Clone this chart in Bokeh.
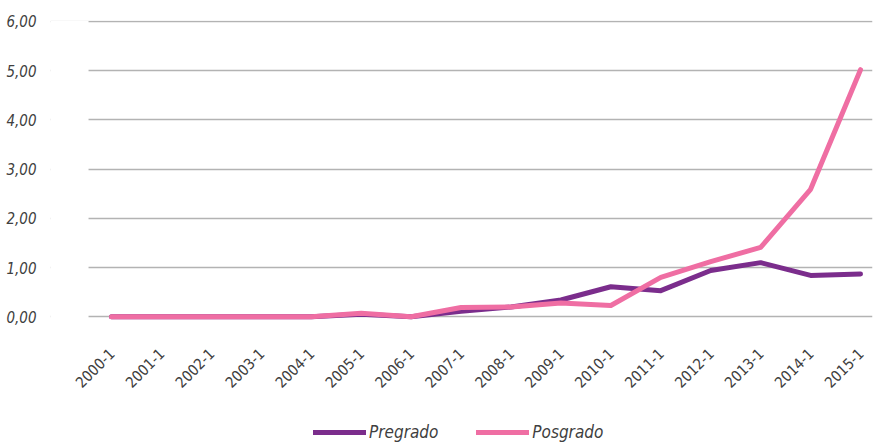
import math
from bokeh.plotting import figure
from bokeh.models import (ColumnDataSource, FixedTicker, Range1d, Legend, LegendItem,
                          CustomJSTickFormatter, BoxAnnotation)
from bokeh.embed import file_html
from bokeh.resources import INLINE

periods = ["2000-1", "2001-1", "2002-1", "2003-1", "2004-1", "2005-1", "2006-1", "2007-1",
           "2008-1", "2009-1", "2010-1", "2011-1", "2012-1", "2013-1", "2014-1", "2015-1"]
pregrado = [0.0, 0.0, 0.0, 0.0, 0.0, 0.05, 0.0, 0.11, 0.2, 0.34, 0.61, 0.53, 0.94, 1.1, 0.84, 0.87]
posgrado = [0.0, 0.0, 0.0, 0.0, 0.0, 0.07, 0.0, 0.19, 0.2, 0.28, 0.23, 0.8, 1.12, 1.41, 2.59, 5.02]
y_ticks = [0, 1, 2, 3, 4, 5, 6]

PURPLE = "#7b2d8c"
PINK = "#ef6ea3"
TEXT = "#404040"
FONT = "DejaVu Sans Condensed"

idx = list(range(len(periods)))
src = ColumnDataSource(dict(x=idx, pre=pregrado, pos=posgrado))

p = figure(frame_width=822, frame_height=423, output_backend="svg", toolbar_location=None,
           x_range=Range1d(-1.222, 15.24), y_range=Range1d(-2.575, 6.02),
           min_border_left=50, min_border_right=2, min_border_top=20, min_border_bottom=0)
p.outline_line_color = None
p.background_fill_color = "white"
p.border_fill_color = "white"

p.xgrid.grid_line_color = None
p.ygrid.grid_line_color = "#b3b3b3"
p.ygrid.grid_line_width = 1.3
p.yaxis.ticker = FixedTicker(ticks=y_ticks)
p.xaxis.ticker = FixedTicker(ticks=idx)
p.xaxis.major_label_overrides = {i: s for i, s in enumerate(periods)}
p.xaxis.fixed_location = 0

# white mask so that the gridlines start at the plot area's left edge
p.add_layout(BoxAnnotation(right=-0.46, bottom=-0.1, fill_color="white", fill_alpha=1,
                           line_color=None, level="underlay"))

for ax in (p.xaxis, p.yaxis):
    ax.axis_line_color = None
    ax.major_tick_line_color = None
    ax.minor_tick_line_color = None
    ax.major_label_text_font = FONT
    ax.major_label_text_color = TEXT
    ax.major_label_text_font_size = "15px"

p.yaxis.major_label_text_font_style = "italic"
p.yaxis.formatter = CustomJSTickFormatter(code="return tick.toFixed(2).replace('.', ',');")
p.yaxis.major_label_standoff = 8
p.xaxis.major_label_orientation = math.pi / 4
p.xaxis.major_label_standoff = 28

r_pre = p.line("x", "pre", source=src, line_color=PURPLE, line_width=5, line_cap="round", line_join="round")
r_pos = p.line("x", "pos", source=src, line_color=PINK, line_width=5, line_cap="round", line_join="round")

legend = Legend(items=[LegendItem(label="Pregrado", renderers=[r_pre]),
                       LegendItem(label="Posgrado", renderers=[r_pos])],
                location=(263, 1), orientation="horizontal",
                glyph_width=53, glyph_height=16, label_standoff=3, spacing=38,
                padding=0, margin=0, border_line_color=None, background_fill_alpha=0,
                label_text_font=FONT, label_text_font_style="italic",
                label_text_font_size="17px", label_text_color=TEXT)
p.add_layout(legend, "center")

open("out.html", "w").write(file_html(p, INLINE))
